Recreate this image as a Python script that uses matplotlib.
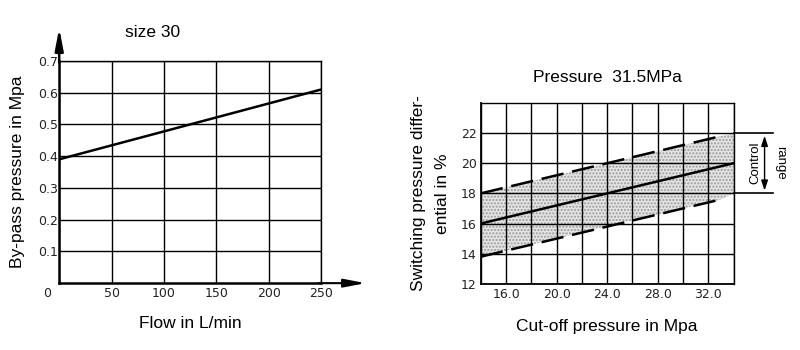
import matplotlib.pyplot as plt
import matplotlib.transforms as mtransforms
import numpy as np

plt.rcParams['font.family'] = ['Liberation Sans', 'DejaVu Sans']

# left chart: by-pass pressure vs flow
flow = [0, 250]
bypass = [0.39, 0.61]
flow_ticks = [0, 50, 100, 150, 200, 250]
bypass_ticks = [0.1, 0.2, 0.3, 0.4, 0.5, 0.6, 0.7]

# right chart: switching pressure differential vs cut-off pressure
cut_x = [14, 34]
mid_y = [16, 20]
dash_x = [14, 33]
upper_y = [18, 21.8]
lower_y = [13.8, 17.6]
band_x = [14, 33, 34]
band_hi = [18, 21.8, 22]
band_lo = [13.8, 17.6, 18]
cut_ticks = [16, 20, 24, 28, 32]
cut_grid = list(range(14, 35, 2))
diff_ticks = [12, 14, 16, 18, 20, 22]

tick_font = dict(family='DejaVu Sans', size=9, color='#222222')
lab_size = 12.5

fig = plt.figure(figsize=(8, 3.5), dpi=100)

# ---- left
ax1 = fig.add_axes([0.074, 0.191, 0.3275, 0.635])
ax1.plot(flow, bypass, color='black', lw=1.8)
ax1.set_xlim(0, 250)
ax1.set_ylim(0, 0.7)
ax1.set_xticks(flow_ticks)
ax1.set_yticks(bypass_ticks)
ax1.set_xticklabels([str(v) for v in flow_ticks], **tick_font)
ax1.set_yticklabels(['%.1f' % v for v in bypass_ticks], **tick_font)
ax1.tick_params(length=0, pad=3)
ax1.tick_params(axis='y', pad=1)
ax1.grid(True, color='black', lw=1.0)
for s in ax1.spines.values():
    s.set_linewidth(1.0)
ax1.spines['left'].set_linewidth(1.8)
ax1.spines['bottom'].set_linewidth(1.8)
lab0 = ax1.get_xticklabels()[0]
lab0.set_transform(lab0.get_transform() + mtransforms.ScaledTranslation(-0.12, 0, fig.dpi_scale_trans))
ax1.annotate('', xy=(0, 1.16), xytext=(0, 0.98), xycoords='axes fraction',
             arrowprops=dict(arrowstyle='-|>,head_length=1.3,head_width=0.25', color='black', lw=1.8))
ax1.annotate('', xy=(1.18, 0), xytext=(0.98, 0), xycoords='axes fraction',
             arrowprops=dict(arrowstyle='-|>,head_length=1.3,head_width=0.25', color='black', lw=1.5))
ax1.text(0.355, 1.13, 'size 30', transform=ax1.transAxes, ha='center', va='center', fontsize=lab_size)
ax1.set_xlabel('Flow in L/min', fontsize=lab_size, labelpad=11)
ax1.set_ylabel('By-pass pressure in Mpa', fontsize=lab_size, labelpad=9)

# ---- right
ax2 = fig.add_axes([0.601, 0.189, 0.316, 0.517])
ax2.fill_between(band_x, band_lo, band_hi, facecolor='#e4e4e4', edgecolor='#9a9a9a',
                 hatch='.....', lw=0)
ax2.plot(cut_x, mid_y, color='black', lw=1.8)
ax2.plot(dash_x, upper_y, color='black', lw=1.8, linestyle=(0, (9, 3.5)))
ax2.plot(dash_x, lower_y, color='black', lw=1.8, linestyle=(0, (9, 3.5)))
ax2.set_xlim(14, 34)
ax2.set_ylim(12, 24)
ax2.set_xticks(cut_grid)
ax2.set_xticklabels(['%.1f' % v if v in cut_ticks else '' for v in cut_grid], **tick_font)
ax2.set_yticks(diff_ticks)
ax2.set_yticklabels([str(v) for v in diff_ticks], **tick_font)
ax2.tick_params(length=0, pad=3)
ax2.grid(True, color='black', lw=1.0)
for s in ax2.spines.values():
    s.set_linewidth(1.0)
ax2.spines['left'].set_linewidth(1.3)
ax2.spines['bottom'].set_linewidth(1.3)
for yv in [18, 22]:
    ax2.plot([34, 37.1], [yv, yv], color='black', lw=1.2, clip_on=False)
ax2.annotate('', xy=(36.45, 22), xytext=(36.45, 18), xycoords='data',
             arrowprops=dict(arrowstyle='<|-|>,head_length=0.6,head_width=0.2', color='black', lw=1),
             annotation_clip=False)
ax2.text(35.75, 20, 'Control', rotation=90, ha='center', va='center', fontsize=9.5)
ax2.text(37.7, 20, 'range', rotation=-90, ha='center', va='center', fontsize=9.5)
ax2.set_title('Pressure  31.5MPa', fontsize=lab_size, pad=15)
ax2.set_xlabel('Cut-off pressure in Mpa', fontsize=lab_size, labelpad=13)
ax2.set_ylabel('Switching pressure differ-\nential in %', fontsize=lab_size, labelpad=8,
               linespacing=1.7)

fig.savefig('out.png', dpi=100)
